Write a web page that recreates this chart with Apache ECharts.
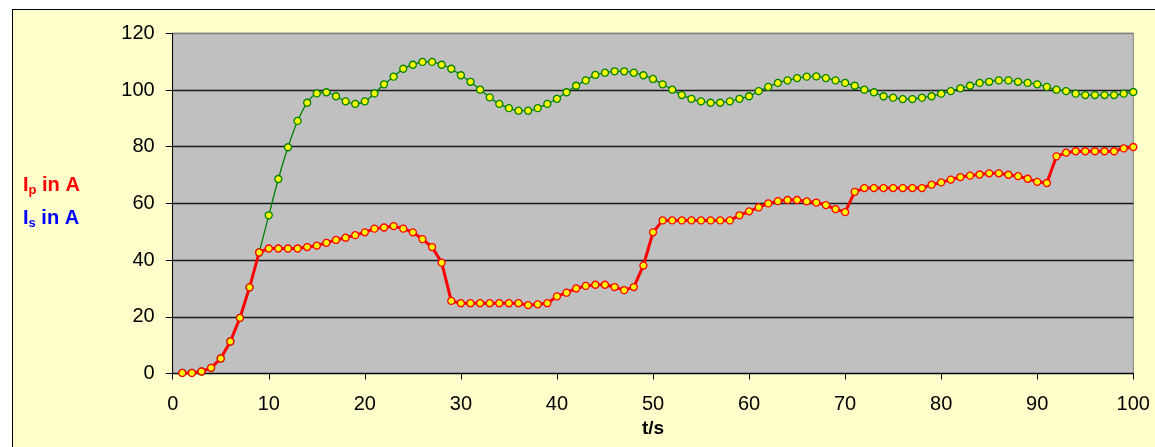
<!DOCTYPE html>
<html><head><meta charset="utf-8">
<script src="https://cdn.jsdelivr.net/npm/echarts@6/dist/echarts.min.js"></script>
<style>
html,body{margin:0;padding:0;background:#fff;overflow:hidden;}
#frame{position:absolute;left:12px;top:9px;width:1300px;height:600px;background:#FFFFCC;border:1px solid #000;}
#c{position:absolute;left:0;top:0;width:1155px;height:447px;}
</style>
</head><body><div id="frame"></div><div id="c"></div>
<script>
const timeS = [1,2,3,4,5,6,7,8,9,10,11,12,13,14,15,16,17,18,19,20,21,22,23,24,25,26,27,28,29,30,31,32,33,34,35,36,37,38,39,40,41,42,43,44,45,46,47,48,49,50,51,52,53,54,55,56,57,58,59,60,61,62,63,64,65,66,67,68,69,70,71,72,73,74,75,76,77,78,79,80,81,82,83,84,85,86,87,88,89,90,91,92,93,94,95,96,97,98,99,100];
const currentIp = [0.2,0.2,0.7,2.0,5.3,11.3,19.6,30.4,42.7,44.1,44.1,44.1,44.1,44.6,45.1,46.1,47.1,47.9,48.8,49.8,51.1,51.5,52.0,51.1,49.8,47.4,44.6,39.1,25.6,24.8,24.8,24.8,24.8,24.8,24.8,24.8,24.1,24.4,24.8,27.2,28.5,30.0,30.9,31.3,31.3,30.5,29.4,30.5,38.1,49.8,54.0,54.0,54.0,54.0,54.0,54.0,54.0,54.0,55.8,57.2,58.6,60.0,60.8,61.2,61.2,60.7,60.3,59.4,58.0,56.9,64.1,65.4,65.4,65.4,65.4,65.4,65.4,65.4,66.6,67.4,68.4,69.3,69.8,70.2,70.6,70.6,70.1,69.6,68.7,67.6,67.2,76.6,77.9,78.4,78.4,78.4,78.4,78.4,79.4,79.9];
const currentIs = [0.2,0.2,0.7,2.0,5.3,11.3,19.6,30.4,42.7,55.8,68.6,79.8,89.1,95.5,98.8,99.2,97.8,96.0,95.1,96.0,98.8,102.0,104.7,107.5,108.9,109.9,109.9,108.9,107.5,105.2,102.9,100.1,97.4,95.1,93.6,92.7,92.7,93.6,95.1,96.9,99.2,101.5,103.4,105.3,106.1,106.6,106.6,106.1,105.2,103.9,102.0,100.1,98.2,96.9,96.0,95.5,95.5,96.0,96.9,97.8,99.6,101.1,102.5,103.4,104.2,104.7,104.8,104.2,103.4,102.5,101.5,100.1,99.2,97.8,97.3,96.8,96.8,97.3,97.8,98.7,99.6,100.6,101.5,102.5,102.9,103.4,103.4,102.9,102.5,102.0,101.1,100.1,99.6,98.7,98.2,98.2,98.2,98.2,98.7,99.3];
const xAxisName = 't/s';
const legendIp = ['I', 'p', ' in A'];
const legendIs = ['I', 's', ' in A'];

const FONT = '"Liberation Sans", Arial, sans-serif';
const ipData = timeS.map((t, i) => [t, currentIp[i]]);
const isData = timeS.map((t, i) => [t, currentIs[i]]);

function legendText(parts, color, top) {
  return {
    type: 'text', left: 23, top: top, silent: true,
    style: {
      text: '{m|' + parts[0] + '}{s|' + parts[1] + '}{m|' + parts[2] + '}',
      rich: {
        m: { fontSize: 20, fontWeight: 'bold', fill: color, fontFamily: FONT },
        s: { fontSize: 13, fontWeight: 'bold', fill: color, fontFamily: FONT, padding: [11, 0, 0, 0] }
      }
    }
  };
}

const chart = echarts.init(document.getElementById('c'), null, { renderer: 'canvas' });
chart.setOption({
  animation: false,
  backgroundColor: 'transparent',
  textStyle: { fontFamily: FONT },
  grid: {
    left: 172.7, right: 21.7, top: 33.3, bottom: 73.5,
    show: true, backgroundColor: '#C0C0C0', borderColor: '#808080', borderWidth: 1
  },
  xAxis: {
    type: 'value', min: 0, max: 100, interval: 10,
    axisLine: { show: true, onZero: false, lineStyle: { color: '#000', width: 1 } },
    axisTick: { show: true, length: 6, lineStyle: { color: '#000', width: 1 } },
    axisLabel: { fontSize: 20, color: '#000', margin: 21, fontFamily: FONT },
    splitLine: { show: false },
    name: xAxisName, nameLocation: 'middle', nameGap: 40,
    nameTextStyle: { fontSize: 19, fontWeight: 'bold', color: '#000', fontFamily: FONT }
  },
  yAxis: {
    type: 'value', min: 0, max: 120, interval: 20,
    axisLine: { show: true, lineStyle: { color: '#000', width: 1 } },
    axisTick: { show: true, length: 7, lineStyle: { color: '#000', width: 1 } },
    axisLabel: { fontSize: 20, color: '#000', margin: 18, fontFamily: FONT },
    splitLine: { show: true, lineStyle: { color: ['#000', '#1a1a1a', '#1a1a1a', '#1a1a1a', '#1a1a1a', '#1a1a1a', '#808080'], width: 1.3 } }
  },
  graphic: [
    legendText(legendIp, '#FF0000', 175),
    legendText(legendIs, '#0000FF', 208)
  ],
  series: [
    {
      name: 'Is', type: 'line', data: isData, smooth: 0.35, z: 2,
      symbol: 'circle', symbolSize: 7,
      lineStyle: { color: '#008000', width: 1.3 },
      itemStyle: { color: '#FFFF00', borderColor: '#008000', borderWidth: 1.3 }
    },
    {
      name: 'Ip', type: 'line', data: ipData, smooth: false, z: 3,
      symbol: 'circle', symbolSize: 7,
      lineStyle: { color: '#FF0000', width: 3 },
      itemStyle: { color: '#FFFF00', borderColor: '#FF0000', borderWidth: 1.3 }
    }
  ]
});
</script>
</body></html>
